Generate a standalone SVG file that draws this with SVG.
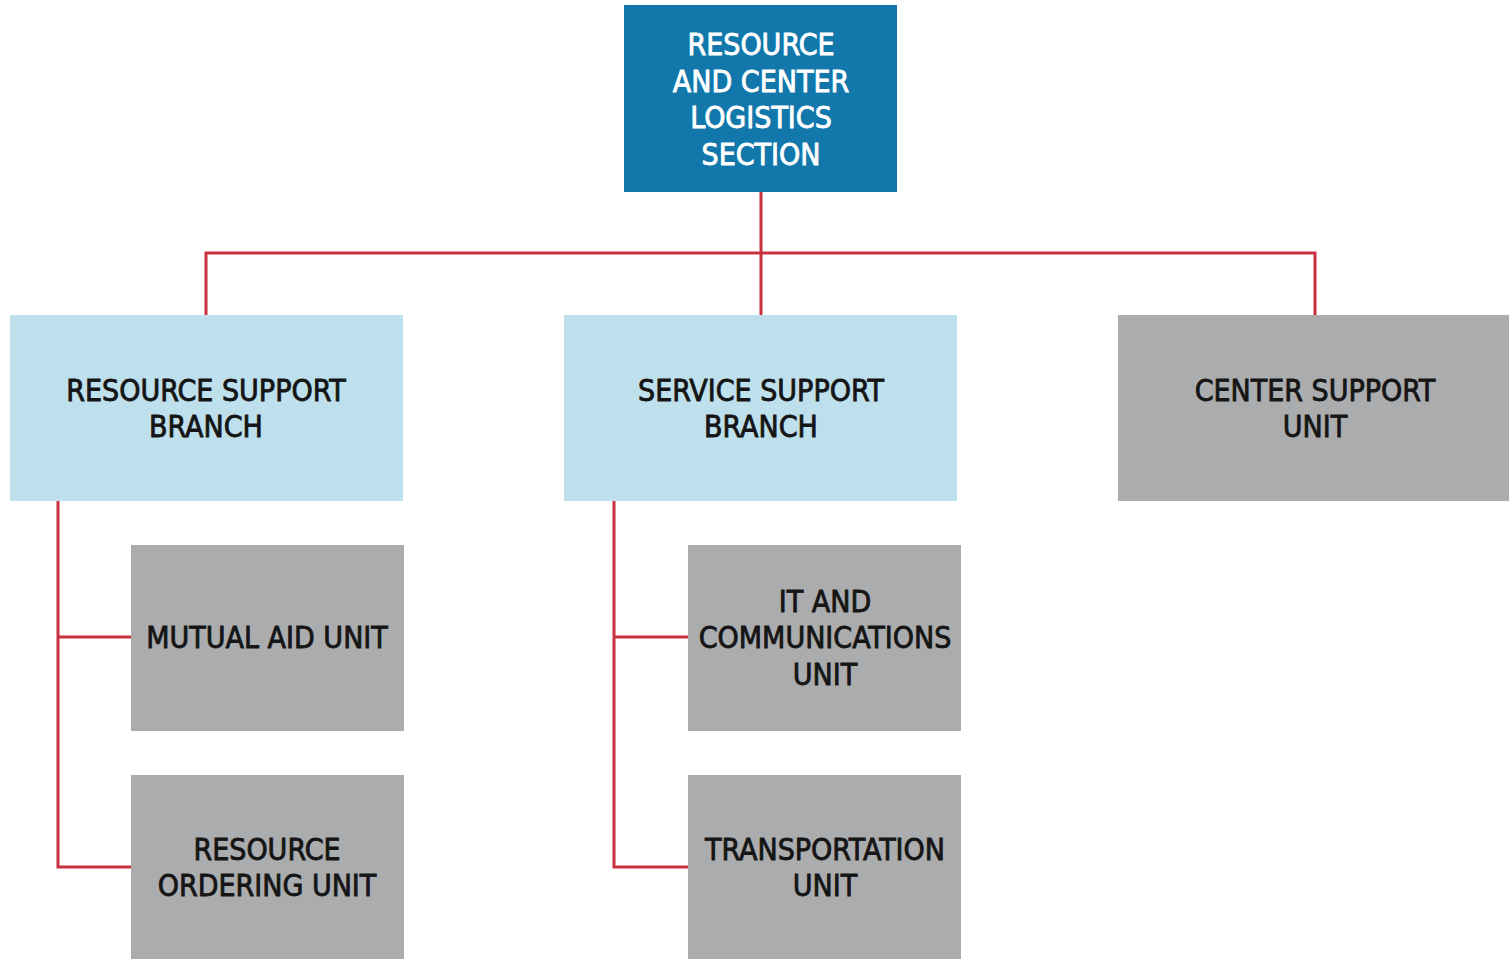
<svg xmlns="http://www.w3.org/2000/svg" width="1509" height="959" viewBox="0 0 1509 959">
<style>
.dark{fill:#1278AB}
.light{fill:#BEDFEC}
.gray{fill:#ABACAE}
text{font-family:"DejaVu Sans Condensed","DejaVu Sans","Liberation Sans",sans-serif;font-size:30px;font-weight:normal;text-anchor:middle;fill:#151515;stroke:#151515;stroke-width:0.8}
text.w{fill:#ffffff;stroke:#ffffff}
.c{fill:none;stroke:#C8323E;stroke-width:3}
</style>
<rect width="1509" height="959" fill="#ffffff"/>
<g id="connectors">
<path class="c" d="M761 192V315M206 315V253H1315V315"/>
<path class="c" d="M58 501V867H131M58 637H131"/>
<path class="c" d="M614 501V867H688M614 637H688"/>
</g>
<g id="n-section"><rect class="dark" x="624" y="5" width="273" height="187"/>
<text class="w"><tspan x="761" y="55">RESOURCE</tspan><tspan x="761" y="91.5">AND CENTER</tspan><tspan x="761" y="128">LOGISTICS</tspan><tspan x="761" y="165">SECTION</tspan></text></g>
<g id="n-rsb"><rect class="light" x="10" y="315" width="393" height="186"/>
<text><tspan x="206" y="401">RESOURCE SUPPORT</tspan><tspan x="206" y="437">BRANCH</tspan></text></g>
<g id="n-ssb"><rect class="light" x="564" y="315" width="393" height="186"/>
<text><tspan x="761" y="401">SERVICE SUPPORT</tspan><tspan x="761" y="437">BRANCH</tspan></text></g>
<g id="n-csu"><rect class="gray" x="1118" y="315" width="391" height="186"/>
<text><tspan x="1315" y="401">CENTER SUPPORT</tspan><tspan x="1315" y="437">UNIT</tspan></text></g>
<g id="n-mau"><rect class="gray" x="131" y="545" width="273" height="186"/>
<text><tspan x="267" y="648">MUTUAL AID UNIT</tspan></text></g>
<g id="n-rou"><rect class="gray" x="131" y="775" width="273" height="190"/>
<text><tspan x="267" y="860">RESOURCE</tspan><tspan x="267" y="896">ORDERING UNIT</tspan></text></g>
<g id="n-itc"><rect class="gray" x="688" y="545" width="273" height="186"/>
<text><tspan x="825" y="612">IT AND</tspan><tspan x="825" y="648">COMMUNICATIONS</tspan><tspan x="825" y="685">UNIT</tspan></text></g>
<g id="n-tu"><rect class="gray" x="688" y="775" width="273" height="190"/>
<text><tspan x="825" y="860">TRANSPORTATION</tspan><tspan x="825" y="896">UNIT</tspan></text></g>
</svg>
